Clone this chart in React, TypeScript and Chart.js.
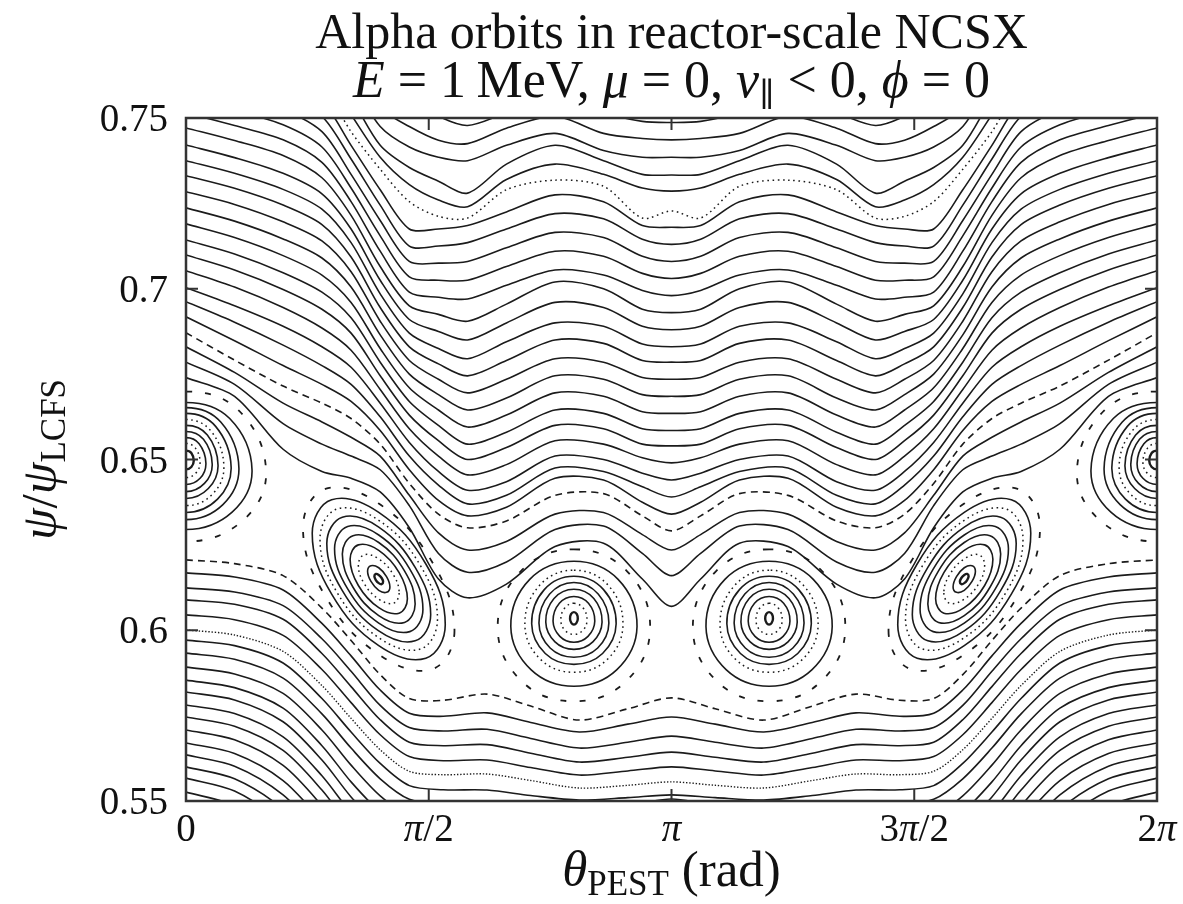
import React, { useEffect, useRef } from "react";
import { Chart, registerables } from "chart.js";

Chart.register(...registerables);

// ---------- axis / tick data (theta expressed in units of pi) ----------
const X_TICK_VALUES = [0, 0.5, 1, 1.5, 2];
const X_TICK_LABELS = ["0", "π/2", "π", "3π/2", "2π"];
const Y_TICK_VALUES = [0.55, 0.6, 0.65, 0.7, 0.75];
const Y_TICK_LABELS = ["0.55", "0.6", "0.65", "0.7", "0.75"];

// ---------- upper family of passing orbits (left half, mirrored about pi) ----------
const THETA_UPPER_HALF = [0, 0.1, 0.2, 0.28, 0.34, 0.4, 0.46, 0.52, 0.58, 0.66, 0.76, 0.86, 0.94, 1.0];
const UPPER_PSI = [
  [0.674, 0.6685, 0.653, 0.6465, 0.6445, 0.6405, 0.63, 0.615, 0.6095, 0.6135, 0.6245, 0.6255, 0.615, 0.607],
  [0.6785, 0.672, 0.6605, 0.6545, 0.651, 0.647, 0.6365, 0.6225, 0.617, 0.62, 0.6295, 0.6305, 0.6225, 0.616],
  [0.683, 0.6755, 0.6665, 0.661, 0.6565, 0.651, 0.6395, 0.6285, 0.6235, 0.626, 0.634, 0.6345, 0.628, 0.6235],
  [0.6871, 0.6791, 0.6715, 0.6665, 0.662, 0.6545, 0.643, 0.634, 0.63, 0.632, 0.6395, 0.64, 0.6335, 0.6291],
  [0.6918, 0.6848, 0.6775, 0.672, 0.667, 0.6585, 0.647, 0.638, 0.6335, 0.636, 0.6445, 0.644, 0.6375, 0.634],
  [0.6962, 0.6902, 0.6835, 0.6775, 0.672, 0.6625, 0.651, 0.6425, 0.637, 0.6395, 0.6475, 0.6465, 0.642, 0.639],
  [0.7003, 0.695, 0.689, 0.683, 0.677, 0.6665, 0.655, 0.6465, 0.641, 0.6435, 0.651, 0.65, 0.646, 0.644],
  [0.7053, 0.7005, 0.6945, 0.6885, 0.682, 0.6705, 0.659, 0.651, 0.6455, 0.6485, 0.6555, 0.6545, 0.6505, 0.649],
  [0.7099, 0.7055, 0.6998, 0.694, 0.687, 0.6745, 0.663, 0.6555, 0.65, 0.6535, 0.66, 0.659, 0.6545, 0.654],
  [0.7143, 0.7102, 0.7047, 0.699, 0.6915, 0.6785, 0.667, 0.66, 0.6545, 0.658, 0.6645, 0.6635, 0.659, 0.6585],
  [0.719, 0.715, 0.7097, 0.704, 0.696, 0.6825, 0.671, 0.6645, 0.6595, 0.663, 0.6695, 0.6685, 0.664, 0.6635],
  [0.7237, 0.7198, 0.7146, 0.709, 0.7005, 0.6865, 0.675, 0.669, 0.6645, 0.668, 0.6745, 0.6735, 0.669, 0.6685],
  [0.7284, 0.7247, 0.7196, 0.714, 0.705, 0.6905, 0.679, 0.6735, 0.6695, 0.6735, 0.6795, 0.6785, 0.674, 0.6735],
  [0.7331, 0.7294, 0.7245, 0.7188, 0.7093, 0.6945, 0.683, 0.678, 0.6745, 0.679, 0.685, 0.684, 0.679, 0.6785],
  [0.7375, 0.7338, 0.7291, 0.7233, 0.7135, 0.6985, 0.687, 0.6825, 0.6795, 0.6845, 0.69, 0.689, 0.6838, 0.683],
  [0.7421, 0.7384, 0.7338, 0.7278, 0.7175, 0.7025, 0.691, 0.6875, 0.685, 0.69, 0.696, 0.6945, 0.689, 0.688],
  [0.7471, 0.7434, 0.739, 0.7325, 0.7215, 0.7065, 0.695, 0.6925, 0.6905, 0.6955, 0.702, 0.7, 0.694, 0.693],
  [0.7515, 0.7478, 0.7436, 0.737, 0.7255, 0.711, 0.699, 0.6975, 0.697, 0.701, 0.7055, 0.704, 0.6995, 0.698],
  [0.756, 0.7523, 0.748, 0.7415, 0.7295, 0.7155, 0.7035, 0.7025, 0.7025, 0.7065, 0.711, 0.7095, 0.7045, 0.703],
  [0.7605, 0.7568, 0.7525, 0.746, 0.7335, 0.72, 0.708, 0.7075, 0.708, 0.712, 0.7165, 0.715, 0.7095, 0.708],
  [0.765, 0.7613, 0.757, 0.7505, 0.738, 0.7245, 0.7125, 0.7125, 0.7135, 0.7175, 0.722, 0.7205, 0.7145, 0.713],
  [0.7695, 0.7658, 0.7615, 0.755, 0.742, 0.729, 0.7175, 0.7175, 0.7185, 0.7225, 0.7275, 0.7255, 0.7185, 0.718],
  [0.774, 0.7703, 0.766, 0.7595, 0.746, 0.735, 0.7255, 0.7212, 0.7207, 0.729, 0.7318, 0.73, 0.7207, 0.7228],
  [0.7785, 0.7748, 0.7705, 0.764, 0.751, 0.7385, 0.7305, 0.726, 0.724, 0.732, 0.7365, 0.7335, 0.7295, 0.7286],
  [0.783, 0.7793, 0.775, 0.7685, 0.756, 0.742, 0.7355, 0.7315, 0.728, 0.7365, 0.742, 0.7375, 0.7335, 0.7333],
  [0.7875, 0.7838, 0.7795, 0.773, 0.761, 0.7475, 0.7415, 0.7385, 0.7375, 0.742, 0.7455, 0.7405, 0.7385, 0.7385],
  [0.792, 0.7883, 0.784, 0.7775, 0.766, 0.753, 0.7475, 0.7435, 0.7425, 0.747, 0.7505, 0.7455, 0.744, 0.7436],
  [0.7965, 0.7928, 0.7885, 0.782, 0.771, 0.759, 0.7555, 0.7505, 0.7478, 0.7515, 0.756, 0.7515, 0.749, 0.7487],
];
const UPPER_STYLE = [
  "solid", "solid", "solid", "dashed", "solid", "solid", "solid", "solid", "solid", "solid",
  "solid", "solid", "solid", "solid", "solid", "solid", "solid", "solid", "solid", "solid",
  "solid", "solid", "dotted", "solid", "solid", "solid", "solid", "solid",
];

// ---------- lower family of passing orbits ----------
const THETA_LOWER_HALF = [0, 0.1, 0.2, 0.28, 0.34, 0.4, 0.46, 0.53, 0.62, 0.71, 0.81, 0.91, 1.0];
const LOWER_PSI = [
  [0.6206, 0.6195, 0.616, 0.6065, 0.597, 0.587, 0.58, 0.5795, 0.5813, 0.5778, 0.5737, 0.577, 0.5802],
  [0.6168, 0.6156, 0.6118, 0.602, 0.5925, 0.5825, 0.5757, 0.5748, 0.5758, 0.573, 0.5702, 0.5725, 0.5746],
  [0.6124, 0.6112, 0.6072, 0.5975, 0.588, 0.578, 0.5715, 0.5705, 0.571, 0.5683, 0.5655, 0.5672, 0.569],
  [0.6089, 0.6076, 0.6032, 0.5932, 0.5835, 0.5738, 0.5672, 0.5662, 0.5665, 0.564, 0.5614, 0.5628, 0.5643],
  [0.6045, 0.6031, 0.5985, 0.5885, 0.5788, 0.5694, 0.563, 0.5618, 0.562, 0.5598, 0.5576, 0.5588, 0.56],
  [0.6001, 0.5986, 0.5938, 0.5838, 0.5742, 0.565, 0.5587, 0.5577, 0.5579, 0.556, 0.5538, 0.5546, 0.5556],
  [0.5971, 0.5955, 0.5904, 0.58, 0.5702, 0.561, 0.5545, 0.5533, 0.5532, 0.5516, 0.5503, 0.551, 0.5518],
  [0.5933, 0.5915, 0.586, 0.5755, 0.5655, 0.5565, 0.5505, 0.549, 0.5486, 0.5472, 0.5462, 0.5485, 0.5506],
  [0.5892, 0.5872, 0.5815, 0.5708, 0.5605, 0.5515, 0.5458, 0.544, 0.5435, 0.542, 0.541, 0.543, 0.545],
  [0.5854, 0.5832, 0.5772, 0.5662, 0.5556, 0.5468, 0.541, 0.539, 0.5385, 0.537, 0.536, 0.5375, 0.539],
  [0.5819, 0.5796, 0.5732, 0.562, 0.5512, 0.5425, 0.537, 0.535, 0.5345, 0.533, 0.532, 0.5335, 0.535],
  [0.5781, 0.5756, 0.5688, 0.5574, 0.5465, 0.538, 0.533, 0.531, 0.5305, 0.529, 0.528, 0.5295, 0.531],
  [0.5746, 0.5719, 0.5648, 0.5532, 0.5422, 0.534, 0.529, 0.527, 0.5265, 0.525, 0.524, 0.5255, 0.527],
  [0.5708, 0.5679, 0.5604, 0.5486, 0.5376, 0.53, 0.525, 0.523, 0.5225, 0.521, 0.52, 0.5215, 0.523],
  [0.567, 0.5639, 0.556, 0.544, 0.533, 0.526, 0.521, 0.519, 0.5185, 0.517, 0.516, 0.5175, 0.519],
  [0.5635, 0.5602, 0.5518, 0.5396, 0.529, 0.522, 0.517, 0.515, 0.5145, 0.513, 0.512, 0.5135, 0.515],
  [0.56, 0.5565, 0.5476, 0.5352, 0.525, 0.518, 0.513, 0.511, 0.5105, 0.509, 0.508, 0.5095, 0.511],
  [0.5567, 0.5529, 0.5435, 0.531, 0.521, 0.514, 0.509, 0.507, 0.5065, 0.505, 0.504, 0.5055, 0.507],
  [0.5526, 0.5486, 0.5385, 0.526, 0.516, 0.509, 0.504, 0.502, 0.5015, 0.5, 0.499, 0.5005, 0.502],
];
const LOWER_STYLE = [
  "dashed", "solid", "solid", "solid", "solid", "fine", "solid", "solid", "solid", "solid",
  "solid", "solid", "solid", "solid", "solid", "solid", "solid", "solid", "solid",
];

// ---------- island at theta = 0 (and its copy at 2pi): half rings top -> right -> bottom ----------
const ISLAND_A_HALF_RINGS = [
  [[0, 0.6526], [0.011, 0.6519], [0.016, 0.6496], [0.011, 0.6478], [0, 0.6471]],
  [[0, 0.6547], [0.019, 0.6534], [0.029, 0.6492], [0.02, 0.646], [0, 0.6447]],
  [[0, 0.6564], [0.027, 0.6546], [0.041, 0.6489], [0.029, 0.6445], [0, 0.6427]],
  [[0, 0.6582], [0.036, 0.6559], [0.054, 0.6486], [0.038, 0.643], [0, 0.6406]],
  [[0, 0.66], [0.044, 0.6572], [0.066, 0.6483], [0.046, 0.6415], [0, 0.6386]],
  [[0, 0.6617], [0.051, 0.6584], [0.078, 0.648], [0.055, 0.6399], [0, 0.6365]],
  [[0, 0.6635], [0.061, 0.6597], [0.093, 0.6477], [0.065, 0.6384], [0, 0.6345]],
  [[0, 0.6652], [0.072, 0.6609], [0.109, 0.6474], [0.076, 0.6368], [0, 0.6324]],
  [[0, 0.6667], [0.09, 0.662], [0.136, 0.6469], [0.095, 0.6346], [0, 0.6295]],
  [[0, 0.6699], [0.109, 0.6643], [0.165, 0.6464], [0.116, 0.632], [0, 0.626]],
];
const ISLAND_A_STYLE = ["bold", "dotted", "solid", "solid", "solid", "dotted", "solid", "solid", "solid", "sparse"];

// ---------- tilted island near theta = 0.4 pi (mirror copy near 1.6 pi) ----------
const ISLAND_B_RINGS = [
  [[0.553, 0.5998], [0.507, 0.5886], [0.397, 0.5929], [0.287, 0.61], [0.241, 0.6302], [0.287, 0.6414], [0.397, 0.6371], [0.507, 0.62]],
  [[0.534, 0.6016], [0.494, 0.5918], [0.397, 0.5955], [0.3, 0.6106], [0.26, 0.6284], [0.3, 0.6382], [0.397, 0.6345], [0.494, 0.6194]],
  [[0.518, 0.6032], [0.483, 0.5945], [0.397, 0.5978], [0.311, 0.6111], [0.276, 0.6268], [0.311, 0.6355], [0.397, 0.6322], [0.483, 0.6189]],
  [[0.504, 0.6046], [0.472, 0.5969], [0.397, 0.5998], [0.322, 0.6116], [0.29, 0.6254], [0.322, 0.6331], [0.397, 0.6302], [0.472, 0.6184]],
  [[0.488, 0.6061], [0.461, 0.5996], [0.397, 0.6021], [0.333, 0.6121], [0.306, 0.6239], [0.333, 0.6304], [0.397, 0.6279], [0.461, 0.6179]],
  [[0.472, 0.6077], [0.45, 0.6023], [0.397, 0.6043], [0.344, 0.6126], [0.322, 0.6223], [0.344, 0.6277], [0.397, 0.6257], [0.45, 0.6174]],
  [[0.456, 0.6092], [0.439, 0.605], [0.397, 0.6066], [0.355, 0.6131], [0.338, 0.6208], [0.355, 0.625], [0.397, 0.6234], [0.439, 0.6169]],
  [[0.439, 0.6109], [0.427, 0.6079], [0.397, 0.6091], [0.367, 0.6137], [0.355, 0.6191], [0.367, 0.6221], [0.397, 0.6209], [0.427, 0.6163]],
  [[0.42, 0.6127], [0.413, 0.6111], [0.397, 0.6117], [0.381, 0.6143], [0.374, 0.6173], [0.381, 0.6189], [0.397, 0.6183], [0.413, 0.6157]],
  [[0.406, 0.6142], [0.403, 0.6135], [0.397, 0.6138], [0.391, 0.6147], [0.388, 0.6158], [0.391, 0.6165], [0.397, 0.6162], [0.403, 0.6153]],
];
const ISLAND_B_STYLE = ["sparse", "solid", "dotted", "solid", "solid", "solid", "solid", "dotted", "solid", "bold"];

// ---------- egg-shaped island near theta = 0.8 pi (mirror copy near 1.2 pi) ----------
const ISLAND_C_RINGS = [
  [[0.799, 0.6237], [0.909, 0.6172], [0.956, 0.6006], [0.906, 0.585], [0.799, 0.5792], [0.692, 0.585], [0.642, 0.6006], [0.689, 0.6172]],
  [[0.799, 0.6202], [0.89, 0.6149], [0.929, 0.6011], [0.887, 0.5884], [0.799, 0.5836], [0.711, 0.5884], [0.669, 0.6011], [0.708, 0.6149]],
  [[0.799, 0.6176], [0.87, 0.6131], [0.9, 0.6016], [0.868, 0.5915], [0.799, 0.5877], [0.73, 0.5915], [0.698, 0.6016], [0.728, 0.6131]],
  [[0.799, 0.6158], [0.86, 0.6119], [0.886, 0.6019], [0.858, 0.5932], [0.799, 0.59], [0.74, 0.5932], [0.712, 0.6019], [0.738, 0.6119]],
  [[0.799, 0.614], [0.849, 0.6106], [0.871, 0.6021], [0.848, 0.5948], [0.799, 0.5921], [0.75, 0.5948], [0.727, 0.6021], [0.749, 0.6106]],
  [[0.799, 0.612], [0.84, 0.6093], [0.857, 0.6024], [0.838, 0.5966], [0.799, 0.5944], [0.76, 0.5966], [0.741, 0.6024], [0.758, 0.6093]],
  [[0.799, 0.6099], [0.829, 0.6079], [0.842, 0.6027], [0.828, 0.5982], [0.799, 0.5965], [0.77, 0.5982], [0.756, 0.6027], [0.769, 0.6079]],
  [[0.799, 0.6079], [0.818, 0.6065], [0.826, 0.6029], [0.817, 0.5999], [0.799, 0.5988], [0.781, 0.5999], [0.772, 0.6029], [0.78, 0.6065]],
  [[0.799, 0.6053], [0.805, 0.6047], [0.807, 0.6033], [0.804, 0.6021], [0.799, 0.6017], [0.794, 0.6021], [0.791, 0.6033], [0.793, 0.6047]],
];
const ISLAND_C_STYLE = ["sparse", "solid", "dotted", "solid", "solid", "solid", "solid", "dotted", "bold"];

// ---------- rendering helpers ----------
const INK = "#1b1b1b";
const SERIF = "'Liberation Serif', 'DejaVu Serif', serif";
const roman = (s: number) => `${s}px ${SERIF}`;
const italic = (s: number) => `italic ${s}px ${SERIF}`;

function styleProps(s: string) {
  switch (s) {
    case "dashed":
      return { borderWidth: 1.6, borderDash: [7, 5] };
    case "dotted":
      return { borderWidth: 1.5, borderDash: [1.6, 3.6] };
    case "fine":
      return { borderWidth: 1.4, borderDash: [1.4, 1.8] };
    case "sparse":
      return { borderWidth: 1.8, borderDash: [6, 13] };
    case "bold":
      return { borderWidth: 2.4, borderDash: [] };
    default:
      return { borderWidth: 1.6, borderDash: [] };
  }
}

function openCurve(thetaHalf: number[], psiHalf: number[], style: string) {
  const pts: { x: number; y: number }[] = thetaHalf.map((t, i) => ({ x: t, y: psiHalf[i] }));
  for (let i = thetaHalf.length - 2; i >= 0; i--) pts.push({ x: 2 - thetaHalf[i], y: psiHalf[i] });
  return {
    data: pts,
    showLine: true,
    pointRadius: 0,
    borderColor: INK,
    tension: 0.3,
    clip: 0,
    ...styleProps(style),
  };
}

function loopCurve(ring: number[][], style: string) {
  const n = ring.length;
  const seq = [ring[n - 1], ...ring, ring[0], ring[1]];
  const data = seq.map(([t, p]) => ({ x: t, y: p }));
  const last = data.length - 1;
  return {
    data,
    showLine: true,
    pointRadius: 0,
    borderColor: INK,
    tension: 0.4,
    clip: 0,
    ...styleProps(style),
    segment: {
      borderColor: (c: any) => (c.p0DataIndex === 0 || c.p1DataIndex === last ? "rgba(0,0,0,0)" : undefined),
    },
  };
}

const mirrorRing = (ring: number[][]) => ring.map(([t, p]) => [2 - t, p]);
const fullRingFromHalf = (half: number[][]) => {
  const inner = half.slice(1, half.length - 1).reverse().map(([t, p]) => [-t, p]);
  return [...half, ...inner];
};

type Part = { t: string; f: string; dy?: number };
function drawRich(ctx: CanvasRenderingContext2D, parts: Part[], x: number, y: number, align: string) {
  const widths = parts.map((p) => {
    ctx.font = p.f;
    return ctx.measureText(p.t).width;
  });
  const total = widths.reduce((a, b) => a + b, 0);
  let cx = align === "center" ? x - total / 2 : align === "right" ? x - total : x;
  ctx.textAlign = "left";
  ctx.textBaseline = "alphabetic";
  parts.forEach((p, i) => {
    ctx.font = p.f;
    ctx.fillText(p.t, cx, y + (p.dy || 0));
    cx += widths[i];
  });
}

function labelParts(label: string, size: number): Part[] {
  const parts: Part[] = [];
  for (const ch of label) {
    const f = ch === "π" ? italic(size) : roman(size);
    const lastPart = parts[parts.length - 1];
    if (lastPart && lastPart.f === f) lastPart.t += ch;
    else parts.push({ t: ch, f });
  }
  return parts;
}

const decorPlugin = {
  id: "decor",
  afterDraw(chart: any) {
    const { ctx, chartArea, scales } = chart;
    const { left, right, top, bottom } = chartArea;
    const xs = scales.x;
    const ys = scales.y;
    ctx.save();
    ctx.strokeStyle = "#333";
    ctx.lineWidth = 2.5;
    ctx.strokeRect(left, top, right - left, bottom - top);
    ctx.lineWidth = 2;
    ctx.beginPath();
    X_TICK_VALUES.forEach((v) => {
      const px = xs.getPixelForValue(v);
      ctx.moveTo(px, bottom);
      ctx.lineTo(px, bottom - 12);
      ctx.moveTo(px, top);
      ctx.lineTo(px, top + 12);
    });
    Y_TICK_VALUES.forEach((v) => {
      const py = ys.getPixelForValue(v);
      ctx.moveTo(left, py);
      ctx.lineTo(left + 12, py);
      ctx.moveTo(right, py);
      ctx.lineTo(right - 12, py);
    });
    ctx.stroke();

    ctx.fillStyle = "#111";
    X_TICK_VALUES.forEach((v, i) => {
      drawRich(ctx, labelParts(X_TICK_LABELS[i], 39), xs.getPixelForValue(v), 841, "center");
    });
    Y_TICK_VALUES.forEach((v, i) => {
      drawRich(ctx, labelParts(Y_TICK_LABELS[i], 39), 168, ys.getPixelForValue(v) + 13, "right");
    });

    const mid = (left + right) / 2;
    drawRich(ctx, [{ t: "Alpha orbits in reactor-scale NCSX", f: roman(50) }], mid, 48, "center");
    drawRich(
      ctx,
      [
        { t: "E", f: italic(52) },
        { t: " = 1\u2009MeV, ", f: roman(52) },
        { t: "μ", f: italic(52) },
        { t: " = 0, ", f: roman(52) },
        { t: "v", f: italic(52) },
        { t: "∥", f: roman(33), dy: 9 },
        { t: " < 0, ", f: roman(52) },
        { t: "ϕ", f: italic(52) },
        { t: " = 0", f: roman(52) },
      ],
      mid,
      97,
      "center"
    );
    drawRich(
      ctx,
      [
        { t: "θ", f: italic(51) },
        { t: "PEST", f: roman(35), dy: 9 },
        { t: " (rad)", f: roman(51) },
      ],
      mid,
      886,
      "center"
    );
    ctx.save();
    ctx.translate(56, (top + bottom) / 2);
    ctx.rotate(-Math.PI / 2);
    drawRich(
      ctx,
      [
        { t: "ψ", f: italic(51) },
        { t: "/", f: roman(51) },
        { t: "ψ", f: italic(51) },
        { t: "LCFS", f: roman(35), dy: 9 },
      ],
      0,
      0,
      "center"
    );
    ctx.restore();
    ctx.restore();
  },
};

export default function App() {
  const canvasRef = useRef<HTMLCanvasElement | null>(null);

  useEffect(() => {
    const canvas = canvasRef.current;
    if (!canvas) return;
    const datasets: any[] = [];
    UPPER_PSI.forEach((row, i) => datasets.push(openCurve(THETA_UPPER_HALF, row, UPPER_STYLE[i])));
    LOWER_PSI.forEach((row, i) => datasets.push(openCurve(THETA_LOWER_HALF, row, LOWER_STYLE[i])));
    ISLAND_A_HALF_RINGS.forEach((half, i) => {
      const ring = fullRingFromHalf(half);
      datasets.push(loopCurve(ring, ISLAND_A_STYLE[i]));
      datasets.push(loopCurve(mirrorRing(ring), ISLAND_A_STYLE[i]));
    });
    ISLAND_B_RINGS.forEach((ring, i) => {
      datasets.push(loopCurve(ring, ISLAND_B_STYLE[i]));
      datasets.push(loopCurve(mirrorRing(ring), ISLAND_B_STYLE[i]));
    });
    ISLAND_C_RINGS.forEach((ring, i) => {
      datasets.push(loopCurve(ring, ISLAND_C_STYLE[i]));
      datasets.push(loopCurve(mirrorRing(ring), ISLAND_C_STYLE[i]));
    });

    const chart = new Chart(canvas, {
      type: "scatter",
      data: { datasets },
      options: {
        responsive: false,
        animation: false,
        devicePixelRatio: 1,
        layout: { padding: { left: 186, right: 26, top: 118, bottom: 103 } },
        elements: { line: { capBezierPoints: false }, point: { radius: 0 } },
        plugins: { legend: { display: false }, tooltip: { enabled: false }, title: { display: false } },
        scales: {
          x: { type: "linear", min: 0, max: 2, display: false },
          y: { type: "linear", min: 0.55, max: 0.75, display: false },
        },
      } as any,
      plugins: [decorPlugin],
    });
    return () => chart.destroy();
  }, []);

  return (
    <div style={{ position: "fixed", left: 0, top: 0, width: 1183, height: 904, background: "#fff" }}>
      <canvas ref={canvasRef} width={1183} height={904} style={{ display: "block" }} />
    </div>
  );
}
